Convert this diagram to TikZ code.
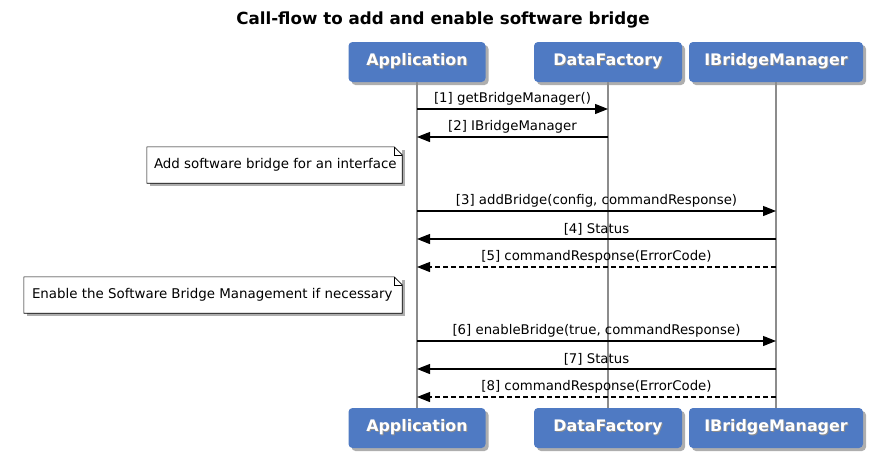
\documentclass[tikz,border=0pt]{standalone}
\usepackage{fontspec}
\setmainfont{DejaVu Sans}
\usetikzlibrary{arrows.meta,shadows}
\definecolor{partblue}{HTML}{4F7AC3}
\definecolor{lifegray}{HTML}{8C8C8C}
\newcommand{\shtext}[1]{\makebox[0pt][l]{\kern1pt\raisebox{-1pt}{\textcolor{black!45}{#1}}}#1}
\tikzset{
  part/.style={rounded corners=4pt, fill=partblue, text=white, font=\bfseries\fontsize{15.9}{18}\selectfont,
    minimum height=40pt, inner sep=0pt,
    drop shadow={shadow xshift=3pt, shadow yshift=-3pt, opacity=0.45, fill=black!70}},
  life/.style={draw=lifegray, line width=1.5pt},
  msg/.style={draw=black, line width=1.1pt, -{Triangle[length=13pt,width=10pt]}},
  reply/.style={msg, dash pattern=on 5pt off 3pt},
  lab/.style={font=\fontsize{13.3}{15}\selectfont, anchor=south, inner sep=0pt, yshift=3pt},
  note/.style={fill=white, font=\fontsize{13.4}{15}\selectfont, minimum height=36pt, inner ysep=0pt,
    drop shadow={shadow xshift=3pt, shadow yshift=-3pt, opacity=0.45, fill=black!70}},
}

\begin{document}
\begin{tikzpicture}[x=1pt,y=-1pt]
  \useasboundingbox[fill=white] (0,0) rectangle (876,456);
  \node[font=\bfseries\fontsize{16.7}{19}\selectfont] (title) at (443,20) {Call-flow to add and enable software bridge};
  % participants
  \node[part, minimum width=137pt] (appTop) at (417,62) {\shtext{Application}};
  \node[part, minimum width=148pt] (dfTop) at (608,62) {\shtext{DataFactory}};
  \node[part, minimum width=174pt] (bmTop) at (776,62) {\shtext{IBridgeManager}};
  \node[part, minimum width=137pt] (appBot) at (417,428) {\shtext{Application}};
  \node[part, minimum width=148pt] (dfBot) at (608,428) {\shtext{DataFactory}};
  \node[part, minimum width=174pt] (bmBot) at (776,428) {\shtext{IBridgeManager}};
  \draw[life] (appTop.south) -- (appBot.north);
  \draw[life] (dfTop.south) -- (dfBot.north);
  \draw[life] (bmTop.south) -- (bmBot.north);
  \foreach \y [count=\i] in {109,137,211,239,267,341,369,397}
    \coordinate (m\i) at (0,\y);
  % notes
  \node[note, inner xsep=7pt] (note1) at (274.5,165) {\makebox[241pt][l]{Add software bridge for an interface}};
  \draw[line width=0.6pt] (note1.south west) -- (note1.north west) -- ([xshift=-8pt]note1.north east)
    -- ([yshift=-8pt]note1.north east) -- (note1.south east) -- cycle;
  \draw[line width=0.6pt] ([xshift=-8pt]note1.north east) |- ([yshift=-8pt]note1.north east);
  \node[note, inner xsep=8pt] (note2) at (213,295) {\makebox[362pt][l]{Enable the Software Bridge Management if necessary}};
  \draw[line width=0.6pt] (note2.south west) -- (note2.north west) -- ([xshift=-8pt]note2.north east)
    -- ([yshift=-8pt]note2.north east) -- (note2.south east) -- cycle;
  \draw[line width=0.6pt] ([xshift=-8pt]note2.north east) |- ([yshift=-8pt]note2.north east);
  % messages
  \draw[msg] (appTop |- m1) -- (dfTop |- m1) node[midway, lab] {[1] getBridgeManager()};
  \draw[msg] (dfTop |- m2) -- (appTop |- m2) node[midway, lab] {[2] IBridgeManager};
  \draw[msg] (appTop |- m3) -- (bmTop |- m3) node[midway, lab] {[3] addBridge(config, commandResponse)};
  \draw[msg] (bmTop |- m4) -- (appTop |- m4) node[midway, lab] {[4] Status};
  \draw[reply] (bmTop |- m5) -- (appTop |- m5) node[midway, lab] {[5] commandResponse(ErrorCode)};
  \draw[msg] (appTop |- m6) -- (bmTop |- m6) node[midway, lab] {[6] enableBridge(true, commandResponse)};
  \draw[msg] (bmTop |- m7) -- (appTop |- m7) node[midway, lab] {[7] Status};
  \draw[reply] (bmTop |- m8) -- (appTop |- m8) node[midway, lab] {[8] commandResponse(ErrorCode)};
\end{tikzpicture}
\end{document}
